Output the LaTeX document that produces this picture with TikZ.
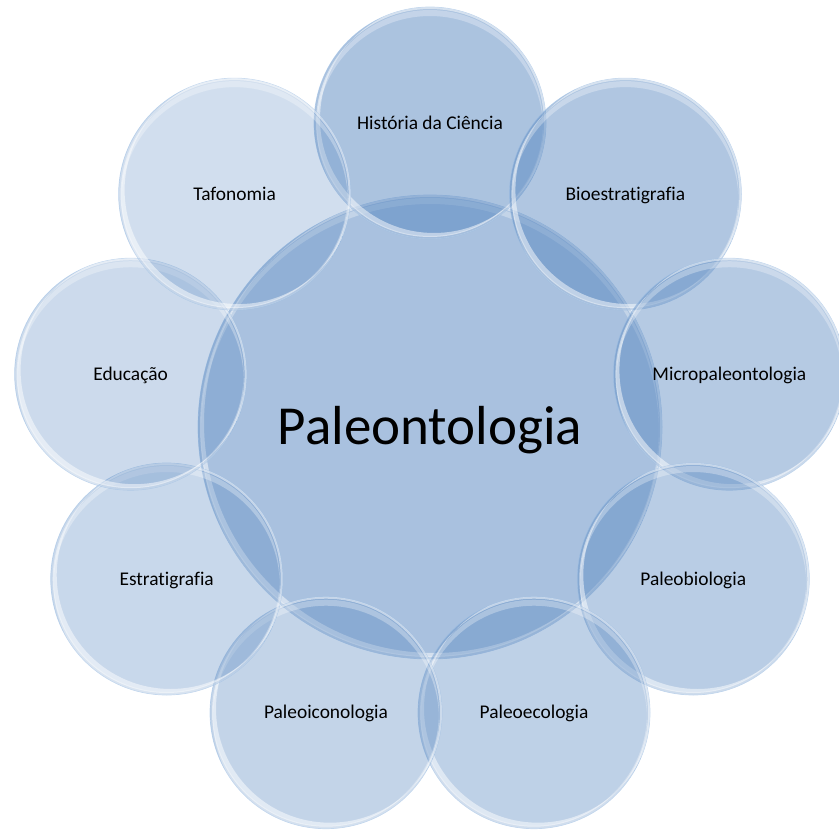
\documentclass[tikz,border=0pt]{standalone}
\usepackage{fontspec}
\setmainfont{Carlito}[Ligatures={NoCommon}]
\definecolor{bub}{RGB}{79,129,189}
\definecolor{rim}{RGB}{160,192,228}
\newcommand\glassfx[2]{%
  \begin{scope}
    \clip (#1.center) circle [radius=#2pt];
    \fill[white, fill opacity=0.30, even odd rule]
      (#1.center) circle [radius=#2pt-3pt]
      ([yshift=-6pt]#1.center) circle [radius=#2pt-3pt];
    \fill[white, fill opacity=0.50, even odd rule]
      (#1.center) circle [radius=#2pt-2pt]
      ([shift={(4pt,4pt)}]#1.center) circle [radius=#2pt-2pt];
  \end{scope}}
\begin{document}
\begin{tikzpicture}[x=1pt,y=-1pt,
  bubble/.style={circle, minimum size=232pt, inner sep=0pt, fill=bub,
    draw=rim, draw opacity=0.6, line width=0.7pt, text opacity=1,
    font=\fontsize{19.4}{23}\selectfont, text=black,
    text height=12.5pt, text depth=0pt},
  corebubble/.style={bubble, minimum size=464pt, fill opacity=0.49,
    font=\fontsize{55}{66}\selectfont, text height=35.4pt}]
\useasboundingbox (0,0) rectangle (839,830);
\node[corebubble] (core) at (430,427) {Paleontologia};
\glassfx{core}{232}
\node[bubble, fill opacity=0.48] (hist) at (430,123) {História da Ciência};
\glassfx{hist}{116}
\node[bubble, fill opacity=0.45] (bio) at (625.4,194.1) {Bioestratigrafia};
\glassfx{bio}{116}
\node[bubble, fill opacity=0.42] (micro) at (729.4,374.2) {Micropaleontologia};
\glassfx{micro}{116}
\node[bubble, fill opacity=0.40] (pbio) at (693.3,579) {Paleobiologia};
\glassfx{pbio}{116}
\node[bubble, fill opacity=0.37] (peco) at (534,712.7) {Paleoecologia};
\glassfx{peco}{116}
\node[bubble, fill opacity=0.34] (picon) at (326,712.7) {Paleoiconologia};
\glassfx{picon}{116}
\node[bubble, fill opacity=0.31] (estr) at (166.7,579) {Estratigrafia};
\glassfx{estr}{116}
\node[bubble, fill opacity=0.29] (educ) at (130.6,374.2) {Educação};
\glassfx{educ}{116}
\node[bubble, fill opacity=0.26] (tafo) at (234.6,194.1) {Tafonomia};
\glassfx{tafo}{116}
\end{tikzpicture}
\end{document}
